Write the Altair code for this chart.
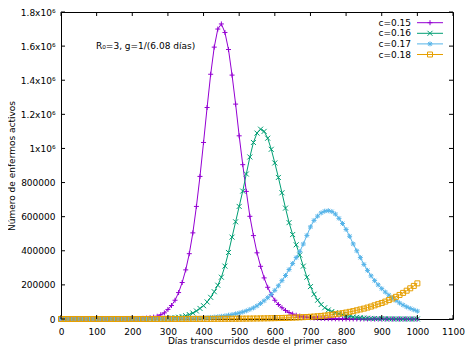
import altair as alt
import pandas as pd

# Days since the first case (one sample every 10 days)
dias = list(range(0, 1001, 10))

series = ["c=0.15", "c=0.16", "c=0.17", "c=0.18"]
colores = ["#9400d3", "#009e73", "#56b4e9", "#e69f00"]

# Active cases, in millions
activos_c015 = [
    0.000001, 0.0000014, 0.000002, 0.0000028, 0.000004, 0.0000057, 0.000008, 0.000012, 0.000017, 0.000024,
    0.000035, 0.00005, 0.00007, 0.0001, 0.00014, 0.0002, 0.00029, 0.00042, 0.0006, 0.00087,
    0.00125, 0.0018, 0.0026, 0.0037, 0.0053, 0.0077, 0.011, 0.016, 0.025, 0.036,
    0.056, 0.079, 0.11, 0.155, 0.214, 0.288, 0.383, 0.505, 0.66, 0.836,
    1.035, 1.24, 1.435, 1.594, 1.70, 1.73, 1.68, 1.58, 1.43, 1.26,
    1.074, 0.905, 0.748, 0.602, 0.489, 0.388, 0.309, 0.241, 0.186, 0.143,
    0.110, 0.085, 0.066, 0.050, 0.038, 0.029, 0.022, 0.017, 0.013, 0.0098,
    0.0075, 0.0057, 0.0043, 0.0033, 0.0025, 0.0019, 0.0015, 0.0011, 0.00085, 0.00065,
    0.0005, 0.00038, 0.00029, 0.00022, 0.00017, 0.00013, 0.0001, 0.000076, 0.000058, 0.000044,
    0.000034, 0.000026, 0.00002, 0.000015, 0.000011, 0.0000087, 0.0000066, 0.000005, 0.0000038, 0.0000029,
    0.0000022,
]
activos_c016 = [
    0.000001, 0.0000011, 0.0000014, 0.0000018, 0.0000023, 0.000003, 0.0000039, 0.0000051, 0.0000068, 0.000009,
    0.000012, 0.000016, 0.000021, 0.000028, 0.000037, 0.00005, 0.000067, 0.00009, 0.00012, 0.00016,
    0.00021, 0.00028, 0.00038, 0.00051, 0.00069, 0.00093, 0.00126, 0.0017, 0.0023, 0.0031,
    0.0042, 0.0057, 0.0077, 0.0104, 0.014, 0.019, 0.026, 0.035, 0.047, 0.062,
    0.078, 0.10, 0.127, 0.16, 0.198, 0.245, 0.31, 0.39, 0.48, 0.57,
    0.66, 0.75, 0.85, 0.95, 1.035, 1.09, 1.113, 1.10, 1.06, 0.995,
    0.915, 0.83, 0.74, 0.65, 0.565, 0.495, 0.435, 0.375, 0.31, 0.245,
    0.19, 0.145, 0.11, 0.085, 0.066, 0.053, 0.044, 0.037, 0.031, 0.025,
    0.02, 0.016, 0.012, 0.0095, 0.0075, 0.0058, 0.0045, 0.0035, 0.0027, 0.002,
    0.0016, 0.0012, 0.0009, 0.0007, 0.00055, 0.00042, 0.00032, 0.00025, 0.00019, 0.00015,
    0.00011,
]
activos_c017 = [
    0.000004, 0.0000048, 0.0000058, 0.000007, 0.0000084, 0.00001, 0.000012, 0.0000145, 0.0000174, 0.000021,
    0.000025, 0.00003, 0.000036, 0.000043, 0.000052, 0.000062, 0.000075, 0.00009, 0.000108, 0.00013,
    0.000155, 0.000186, 0.000224, 0.00027, 0.00032, 0.00039, 0.00046, 0.00056, 0.00067, 0.0008,
    0.001, 0.00125, 0.0015, 0.0018, 0.0021, 0.0026, 0.0031, 0.0037, 0.0044, 0.0053,
    0.0064, 0.0077, 0.0092, 0.011, 0.013, 0.0156, 0.0185, 0.022, 0.026, 0.03,
    0.035, 0.041, 0.048, 0.056, 0.065, 0.077, 0.091, 0.107, 0.125, 0.145,
    0.168, 0.195, 0.225, 0.255, 0.29, 0.325, 0.36, 0.395, 0.44, 0.49,
    0.54, 0.578, 0.603, 0.622, 0.632, 0.635, 0.63, 0.615, 0.59, 0.56,
    0.525, 0.485, 0.44, 0.40, 0.36, 0.32, 0.285, 0.253, 0.225, 0.20,
    0.178, 0.158, 0.14, 0.124, 0.108, 0.094, 0.082, 0.071, 0.062, 0.054,
    0.046,
]
activos_c018 = [
    0.000016, 0.000018, 0.000019, 0.000021, 0.000024, 0.000026, 0.000029, 0.000031, 0.000035, 0.000038,
    0.000042, 0.000046, 0.000051, 0.000056, 0.000062, 0.000068, 0.000075, 0.000082, 0.00009, 0.0001,
    0.00011, 0.00012, 0.00013, 0.00014, 0.00016, 0.00017, 0.00019, 0.00021, 0.00023, 0.00025,
    0.00028, 0.00031, 0.00034, 0.00037, 0.00041, 0.00045, 0.0005, 0.00055, 0.0006, 0.00067,
    0.00074, 0.0008, 0.0009, 0.001, 0.0011, 0.0012, 0.0013, 0.0014, 0.0016, 0.0017,
    0.0019, 0.0021, 0.0023, 0.0025, 0.0028, 0.0031, 0.0034, 0.0037, 0.0041, 0.0045,
    0.005, 0.0055, 0.006, 0.0066, 0.0073, 0.008, 0.0088, 0.0097, 0.0107, 0.0118,
    0.013, 0.0145, 0.016, 0.018, 0.02, 0.022, 0.025, 0.028, 0.031, 0.034,
    0.038, 0.042, 0.046, 0.051, 0.056, 0.061, 0.067, 0.073, 0.08, 0.087,
    0.094, 0.102, 0.111, 0.12, 0.13, 0.141, 0.153, 0.166, 0.18, 0.194,
    0.209,
]

x_ticks = list(range(0, 1101, 100))
y_ticks = list(range(0, 1800001, 200000))
x_title = "Días transcurridos desde el primer caso"
y_title = "Número de enfermos activos"
anotacion = "R₀=3, g=1/(6.08 días)"

# gnuplot-like point types: +, x, *, open square
PLUS = "M-1,0L1,0M0,-1L0,1"
XMARK = "M-1,-1L1,1M-1,1L1,-1"
STAR = "M-1,0L1,0M0,-1L0,1M-0.75,-0.75L0.75,0.75M-0.75,0.75L0.75,-0.75"
formas = [PLUS, XMARK, STAR, "square"]

rows = []
for name, vals in zip(series, [activos_c015, activos_c016, activos_c017, activos_c018]):
    for d, v in zip(dias, vals):
        rows.append({"dia": d, "activos": v * 1e6, "serie": name})
df = pd.DataFrame(rows)

W, H = 392, 307
FONT = "DejaVu Sans"
xscale = alt.Scale(domain=[0, 1100], nice=False, zero=False)
yscale = alt.Scale(domain=[0, 1800000], nice=False)

ylabel_expr = (
    "datum.value == 0 ? '0' : (datum.value < 1000000 ? format(datum.value, 'd') : "
    "(abs(datum.value - 1000000) < 1 ? '1x10⁶' : format(datum.value / 1000000, '.1f') + 'x10⁶'))"
)

x_axis = alt.Axis(values=x_ticks, title=x_title, labelFlush=False, labelOverlap=False,
                  labelPadding=8, titlePadding=0, format="d")
y_axis = alt.Axis(values=y_ticks, title=y_title, labelExpr=ylabel_expr, labelOverlap=False,
                  labelPadding=6, titlePadding=4)
x_enc = alt.X("dia:Q", scale=xscale, axis=x_axis)
y_enc = alt.Y("activos:Q", scale=yscale, axis=y_axis)
color = alt.Color("serie:N", scale=alt.Scale(domain=series, range=colores), legend=None)
shape = alt.Shape("serie:N", scale=alt.Scale(domain=series, range=formas), legend=None)

base = alt.Chart(df)
lines = base.mark_line(strokeWidth=1).encode(x=x_enc, y=y_enc, color=color)
points = base.mark_point(filled=False, size=25, strokeWidth=1, opacity=1).encode(
    x=x_enc, y=y_enc, color=color, shape=shape,
)

# inward ticks on all four sides
TL = 4
xt = pd.DataFrame({"dia": x_ticks})
yt = pd.DataFrame({"activos": y_ticks})
tick_b = alt.Chart(xt).mark_rule(color="black", strokeWidth=1).encode(
    x=x_enc, y=alt.value(H), y2=alt.value(H - TL))
tick_t = alt.Chart(xt).mark_rule(color="black", strokeWidth=1).encode(
    x=x_enc, y=alt.value(0), y2=alt.value(TL))
tick_l = alt.Chart(yt).mark_rule(color="black", strokeWidth=1).encode(
    y=y_enc, x=alt.value(0), x2=alt.value(TL))
tick_r = alt.Chart(yt).mark_rule(color="black", strokeWidth=1).encode(
    y=y_enc, x=alt.value(W), x2=alt.value(W - TL))

annot = alt.Chart(pd.DataFrame({"t": [anotacion]})).mark_text(
    align="left", baseline="middle", fontSize=9, font=FONT, color="black"
).encode(x=alt.value(35), y=alt.value(34), text="t:N")

# key in the top-right corner, gnuplot style (label, then line sample with marker)
legend_layers = []
for i, (name, col, shp) in enumerate(zip(series, colores, formas)):
    ly = 10.7 + i * 10.6
    ldf = pd.DataFrame({"serie": [name]})
    legend_layers.append(
        alt.Chart(ldf).mark_text(align="right", baseline="middle", fontSize=9, font=FONT, color="black")
        .encode(x=alt.value(350), y=alt.value(ly), text="serie:N"))
    legend_layers.append(
        alt.Chart(ldf).mark_rule(color=col, strokeWidth=1)
        .encode(x=alt.value(356), x2=alt.value(382), y=alt.value(ly)))
    legend_layers.append(
        alt.Chart(ldf).mark_point(shape=shp, filled=False, size=25, strokeWidth=1, color=col, opacity=1)
        .encode(x=alt.value(369), y=alt.value(ly)))

chart = alt.layer(
    lines, points, tick_b, tick_t, tick_l, tick_r, annot, *legend_layers
).properties(
    width=W, height=H,
    padding={"left": 53, "top": 4, "right": 13, "bottom": 28},
    autosize=alt.AutoSizeParams(type="none"),
    background="white",
).configure_view(
    stroke="black", strokeWidth=1
).configure_axis(
    domain=False, ticks=False, tickSize=0, grid=False,
    labelFont=FONT, labelFontSize=9, labelColor="black",
    titleFont=FONT, titleFontSize=9, titleFontWeight="normal", titleColor="black",
)

chart.save("out.html", embed_options={"renderer": "svg", "actions": False})
